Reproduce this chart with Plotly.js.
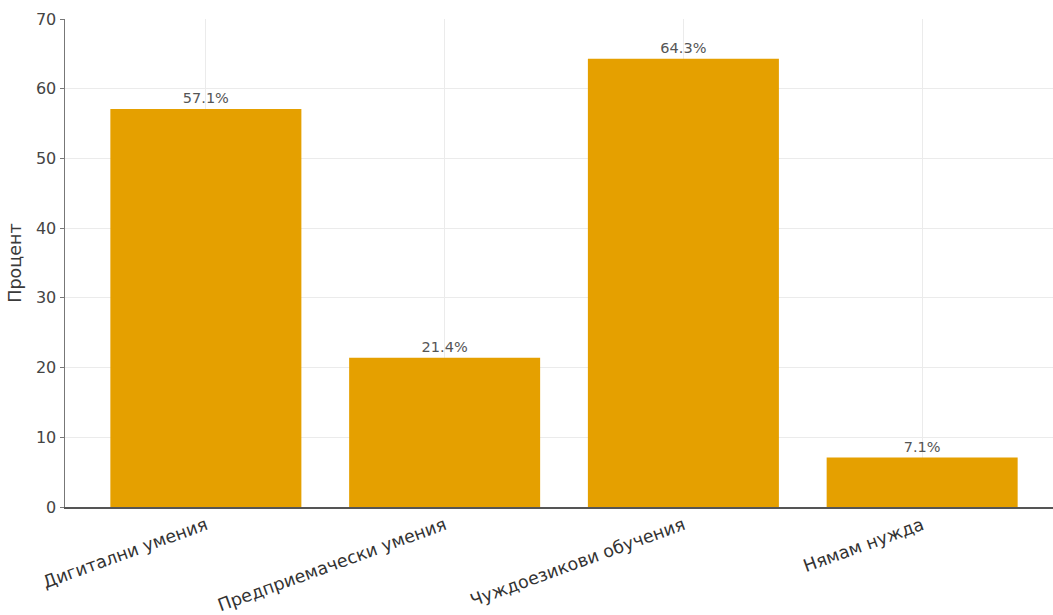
<!DOCTYPE html>
<html>
<head>
<meta charset="utf-8">
<script src="https://cdn.plot.ly/plotly-3.0.1.min.js"></script>
<style>html,body{margin:0;padding:0;background:#fff;}#chart{width:1053px;height:615px;}</style>
</head>
<body>
<div id="chart"></div>
<script>
const categories = ["Дигитални умения", "Предприемачески умения", "Чуждоезикови обучения", "Нямам нужда"];
const values = [57.1, 21.4, 64.3, 7.1];
const labels = ["57.1%", "21.4%", "64.3%", "7.1%"];
const yTicks = [0, 10, 20, 30, 40, 50, 60, 70];

const trace = {
  type: 'bar',
  x: categories,
  y: values,
  text: labels,
  textposition: 'outside',
  cliponaxis: false,
  textfont: {family: 'DejaVu Sans', size: 14.5, color: '#555'},
  marker: {color: '#E5A000'},
  width: 0.8,
  hoverinfo: 'skip'
};

const layout = {
  width: 1053, height: 615,
  margin: {l: 65, r: 0, t: 19, b: 108},
  paper_bgcolor: '#fff', plot_bgcolor: '#fff',
  font: {family: 'DejaVu Sans', color: '#444'},
  showlegend: false,
  xaxis: {
    range: [-0.59, 3.548],
    tickangle: -20,
    tickfont: {size: 17.5, color: '#333'},
    showgrid: true, gridcolor: '#ebebeb', gridwidth: 1,
    showline: true, linecolor: '#555', linewidth: 1.5,
    ticks: '', zeroline: false
  },
  yaxis: {
    range: [0, 70],
    tickvals: yTicks,
    tickfont: {size: 16, color: '#444'},
    title: {text: 'Процент', font: {size: 17.5, color: '#3a3a3a'}, standoff: 10},
    showgrid: true, gridcolor: '#ebebeb', gridwidth: 1,
    showline: true, linecolor: '#777', linewidth: 1.5,
    ticks: 'outside', ticklen: 4, tickcolor: '#777',
    zeroline: false
  }
};

Plotly.newPlot('chart', [trace], layout, {displayModeBar: false, staticPlot: true});
</script>
</body>
</html>
